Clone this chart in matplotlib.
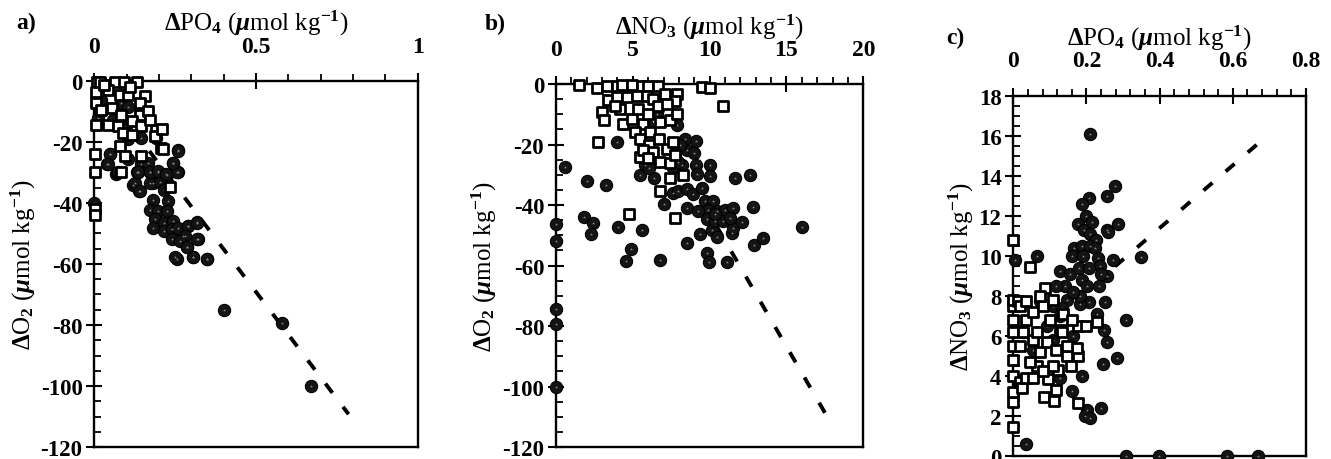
import numpy as np
import matplotlib.pyplot as plt
from matplotlib.ticker import MultipleLocator

plt.rcParams['font.family'] = ['Liberation Serif', 'DejaVu Serif']
plt.rcParams['font.weight'] = 'bold'
plt.rcParams['axes.unicode_minus'] = False
plt.rcParams['mathtext.fontset'] = 'custom'
plt.rcParams['mathtext.rm'] = 'Liberation Serif:bold'
plt.rcParams['mathtext.it'] = 'Liberation Serif:bold:italic'
plt.rcParams['mathtext.bf'] = 'Liberation Serif:bold'

# ---- panel a: dPO4 vs dO2 ----
a_circ_x = [0.40, 0.58, 0.67, 0.0, 0.347, 0.304, 0.255, 0.319, 0.316, 0.291, 0.286, 0.275,
            0.26, 0.244, 0.26, 0.18, 0.12, 0.139, 0.131, 0.048, 0.04, 0.067,
            0.136, 0.172, 0.198, 0.224, 0.255, 0.126, 0.141, 0.172, 0.203, 0.214, 0.069,
            0.182, 0.229, 0.172, 0.198, 0.224, 0.188, 0.214, 0.244, 0.182, 0.214, 0.239,
            0.26, 0.291, 0.317, 0.28, 0.317, 0.239, 0.265, 0.286, 0.25, 0.306, 0.348,
            0.022, 0.011, 0.058, 0.083, 0.104, 0.099, 0.145, 0.192, 0.104, 0.048, 0.042,
            0.073, 0.104, 0.145, 0.166, 0.259, 0.243, 0.135, 0.171, 0.197, 0.223]
a_circ_y = [-75, -79.5, -100, -40, -58.4, -57.8, -58.4, -51.9, -46.3, -47.4, -54.6, -50.8,
            -22.7, -27, -29.7, -33.5, -34, -36.2, -29.7, -23.8, -27.4, -30.5,
            -29.9, -29.9, -29.9, -30.8, -29.9, -33.5, -36.2, -33.5, -33, -35.7, -30.3,
            -38.9, -39.4, -42.2, -42.7, -42.7, -45.4, -46.5, -45.9, -48.1, -49.2, -48.7,
            -48.1, -47.6, -46.5, -50.8, -51.9, -51.9, -52.4, -54.6, -57.8, -57.8, -58.4,
            -6.3, -12.2, -12.7, -7.3, -8.4, -14.9, -18.7, -18.7, -19.2, -24.1, -27.3,
            -30, -25.7, -27.3, -26.8, -23, -26.8, -30, -30, -29.5, -30.6]
a_sq_x = [0.007, 0.018, 0.064, 0.092, 0.131, 0.156, 0.006, 0.042, 0.078, 0.104, 0.14, 0.006,
          0.022, 0.053, 0.083, 0.14, 0.166, 0.006, 0.042, 0.073, 0.115, 0.145, 0.192, 0.171,
          0.089, 0.115, 0.187, 0.207, 0.078, 0.094, 0.145, 0.003, 0.003, 0.083, 0.003,
          0.003, 0.234, 0.211, 0.208, 0.03, 0.11]
a_sq_y = [-0.5, -0.5, -0.5, -0.5, -0.5, -4.9, -3.6, -3.0, -4.6, -4.6, -7.3, -7.3,
          -9.5, -9.0, -11.1, -11.1, -10.0, -14.4, -14.4, -14.9, -13.3, -14.9, -16.0, -12.7,
          -17.1, -17.6, -18.2, -21.9, -21.4, -24.6, -24.6, -24.1, -30.0, -30.0, -42.0,
          -44.0, -34.9, -22.2, -15.7, -1.5, -2.0]
a_line_x = [0.17, 0.786]
a_slope, a_icept = -140.0, 0.8

# ---- panel b: dNO3 vs dO2 ----
b_circ_x = [0, 0, 0, 0, 0, 0.59, 2.0, 3.25, 1.82, 2.39, 2.26, 3.95, 4.01, 4.86, 4.56, 5.62,
            6.77, 7.0, 7.64, 7.96, 8.5, 8.5, 8.5, 8.94, 9.48, 9.11, 8.5, 8.98, 9.11, 10.0,
            9.15, 10.02, 11.65, 12.62, 12.84, 12.89, 13.45, 16.03, 9.8, 9.93, 11.1, 9.37,
            10.13, 10.46, 11.43, 11.54, 12.08, 9.7, 10.2, 9.9, 10.46, 11.0, 11.54, 9.8,
            10.35, 10.89, 11.3, 10.35, 9.26, 5.47, 5.79, 6.38, 6.07, 8.4, 8.07, 7.74, 8.18,
            7.64, 7.96, 7.74, 7.85, 6.55, 5.9]
b_circ_y = [-46.4, -52, -74.4, -79.4, -100, -27.3, -32.2, -33.5, -44, -45.9, -49.4, -19.3,
            -47.1, -54.5, -58.4, -48.2, -58.1, -39.8, -36, -35.2, -52.4, -40.9, -34.6, -36.5,
            -34.4, -18.9, -21.8, -22.9, -26.7, -26.7, -29.8, -30.3, -31.1, -30, -40.7, -53.1,
            -50.9, -47.1, -56, -58.7, -58.9, -49.4, -48.3, -50.5, -49.3, -47.5, -45.5, -38.7,
            -38.7, -41.5, -42, -41.5, -41.1, -44.7, -45.3, -45.3, -44.2, -42.9, -42, -30,
            -26.9, -30.9, -27.6, -18, -20.2, -23.5, -26.7, -27.8, -25.6, -11.1, -13.6, -9.8,
            -13.6]
b_sq_x = [1.52, 2.65, 3.3, 3.95, 4.27, 4.92, 5.57, 6.0, 6.66, 7.85, 9.48, 10.02, 10.89,
          3.4, 3.95, 4.6, 5.25, 5.9, 6.33, 7.09, 7.74, 2.97, 3.12, 4.16, 3.84, 4.38, 4.92,
          5.36, 5.68, 6.0, 6.66, 7.2, 5.14, 5.47, 6.12, 6.77, 7.42, 7.85, 2.75, 6.07, 6.72,
          7.2, 7.64, 5.47, 6.33, 6.77, 7.42, 7.74, 8.29, 7.42, 6.77, 4.77, 7.77, 5.68, 6.0]
b_sq_y = [-0.3, -1.4, -0.5, -0.5, -0.3, -0.3, -0.5, -0.7, -0.5, -3.3, -0.8, -1.2, -7.3,
          -5.1, -4.4, -4.4, -3.8, -3.8, -4.9, -3.3, -5.5, -9.3, -12, -8.2, -7.1, -13.1,
          -11.5, -8.2, -13.1, -9.8, -7.1, -6.5, -15.8, -18, -15.8, -12.5, -12, -9.8, -19.1,
          -20.2, -18, -21.3, -19.1, -24, -22.4, -25.6, -26.2, -23.5, -30, -31.1, -35.2,
          -42.9, -44.2, -21.8, -24.5]
b_line_x = [9.5, 17.6]
b_slope, b_icept = -8.75, 44.5

# ---- panel c: dPO4 vs dNO3 ----
c_circ_x = [0.211, 0.279, 0.255, 0.208, 0.187, 0.198, 0.178, 0.193, 0.214, 0.21, 0.255, 0.26,
            0.287, 0.226, 0.167, 0.187, 0.21, 0.223, 0.16, 0.191, 0.232, 0.237, 0.273, 0.348,
            0.005, 0.066, 0.128, 0.155, 0.18, 0.208, 0.187, 0.201, 0.235, 0.255, 0.241,
            0.141, 0.118, 0.251, 0.208, 0.182, 0.228, 0.307, 0.248, 0.255, 0.284, 0.244,
            0.189, 0.16, 0.202, 0.239, 0.197, 0.211, 0.034, 0.308, 0.399, 0.583, 0.67,
            0.128, 0.146, 0.109, 0.073, 0.128, 0.091, 0.164, 0.055, 0.027, 0.109, 0.182,
            0.164, 0.132]
c_circ_y = [16.1, 13.5, 13.0, 12.9, 12.6, 12.0, 11.6, 11.3, 11.7, 11.1, 11.3, 11.2,
            11.6, 10.8, 10.4, 10.5, 10.5, 10.4, 10.0, 10.0, 9.9, 9.5, 9.8, 9.95,
            9.8, 10.0, 9.25, 9.1, 9.4, 9.4, 8.8, 8.5, 8.5, 9.0, 9.1,
            8.5, 8.5, 7.7, 7.7, 7.6, 7.1, 6.8, 6.3, 5.7, 4.9, 4.6,
            4.0, 3.25, 2.3, 2.4, 2.0, 1.9, 0.6, 0.0, 0.0, 0.0, 0.0,
            3.9, 7.8, 7.5, 7.75, 7.0, 6.5, 6.0, 5.3, 6.2, 5.8, 8.0,
            8.2, 7.4]
c_sq_x = [0.0, 0.046, 0.0, 0.0, 0.0, 0.0, 0.0, 0.0, 0.0, 0.0, 0.0, 0.0, 0.014, 0.018, 0.023,
          0.036, 0.055, 0.084, 0.112, 0.117, 0.176, 0.096, 0.123, 0.146, 0.178, 0.173, 0.176,
          0.2, 0.228, 0.087, 0.036, 0.027, 0.055, 0.018, 0.064, 0.073, 0.091, 0.109, 0.064,
          0.046, 0.082, 0.1, 0.128, 0.146, 0.018, 0.055, 0.082, 0.109, 0.132, 0.118, 0.159,
          0.036, 0.073, 0.137, 0.16]
c_sq_y = [10.8, 9.45, 1.45, 2.7, 3.2, 4.0, 4.8, 5.5, 6.2, 6.8, 7.5, 7.8, 7.75, 3.7, 3.4,
          3.9, 3.9, 2.95, 2.75, 3.3, 2.65, 3.85, 4.3, 5.0, 5.0, 5.4, 6.5,
          6.5, 6.7, 8.4, 6.8, 6.2, 5.8, 5.5, 6.2, 5.2, 5.7, 4.5, 4.5,
          4.7, 4.25, 6.8, 6.3, 5.5, 7.5, 7.2, 7.5, 7.8, 6.2, 5.3, 4.5,
          7.75, 8.0, 7.1, 6.8]
c_line_x = [0.278, 0.692]
c_slope, c_icept = 15.7, 5.1

fig = plt.figure(figsize=(13.31, 4.6), dpi=100)


def panel(rect, cx, cy, sx, sy, lx, slope, icept, xlim, ylim, xmaj, xmin, ymaj, ymin,
          xlabel, ylabel, letter, letter_pos, xfmt):
    ax = fig.add_axes(rect)
    ax.scatter(cx, cy, s=78, marker='o', facecolor='#141414', edgecolor='black',
               linewidth=0.8, clip_on=False, zorder=3)
    ax.scatter(cx, cy, s=5, marker='*', color='#8a8a8a', linewidth=0, clip_on=False, zorder=3)
    ax.scatter(sx, sy, s=52, marker='s', facecolor='white', edgecolor='black',
               linewidth=2.0, clip_on=False, zorder=4)
    lx = np.array(lx)
    ax.plot(lx, slope * lx + icept, color='black', lw=2.8, dashes=(3, 4.5), zorder=2)
    ax.set_xlim(*xlim)
    ax.set_ylim(*ylim)
    ax.xaxis.tick_top()
    ax.xaxis.set_label_position('top')
    ax.xaxis.set_major_locator(MultipleLocator(xmaj))
    ax.xaxis.set_minor_locator(MultipleLocator(xmin))
    ax.yaxis.set_major_locator(MultipleLocator(ymaj))
    ax.yaxis.set_minor_locator(MultipleLocator(ymin))
    ax.xaxis.set_major_formatter(xfmt)
    ax.tick_params(axis='x', which='major', direction='inout', length=11, width=1.5,
                   labelsize=17, pad=12)
    ax.tick_params(axis='x', which='minor', direction='out', length=5, width=1.3)
    ax.tick_params(axis='y', which='major', direction='inout', length=11, width=1.5,
                   labelsize=16.5, pad=3)
    ax.tick_params(axis='y', which='minor', direction='in', length=5, width=1.3)
    for sp in ax.spines.values():
        sp.set_linewidth(1.7)
    ax.set_xlabel(xlabel, fontsize=18, labelpad=4)
    ax.set_ylabel(ylabel, fontsize=18, labelpad=2)
    fig.text(letter_pos[0], letter_pos[1], letter, fontsize=17, fontweight='bold',
             ha='left', va='center')
    return ax


def fmt_a(v, p):
    return '%g' % v


def fmt_c(v, p):
    return '0' if v == 0 else '%.1f' % v


po4_label = r'$\Delta$PO$_4$ ($\mu$mol kg$^{-1}$)'
no3_label = r'$\Delta$NO$_3$ ($\mu$mol kg$^{-1}$)'
o2_label = r'$\Delta$O$_2$ ($\mu$mol kg$^{-1}$)'

panel([0.0709, 0.026, 0.2430, 0.796], a_circ_x, a_circ_y, a_sq_x, a_sq_y,
      a_line_x, a_slope, a_icept, (0, 1), (-120, 0), 0.5, 0.1, 20, 5,
      po4_label, o2_label, 'a)', (0.012, 0.95), plt.FuncFormatter(fmt_a))
panel([0.4177, 0.026, 0.2309, 0.789], b_circ_x, b_circ_y, b_sq_x, b_sq_y,
      b_line_x, b_slope, b_icept, (0, 20), (-120, 0), 5, 1, 20, 5,
      no3_label, o2_label, 'b)', (0.364, 0.946), plt.FuncFormatter(fmt_a))
panel([0.7613, 0.0072, 0.2199, 0.7826], c_circ_x, c_circ_y, c_sq_x, c_sq_y,
      c_line_x, c_slope, c_icept, (0, 0.8), (0, 18), 0.2, 0.04, 2, 0.5,
      po4_label, no3_label, 'c)', (0.711, 0.917), plt.FuncFormatter(fmt_c))

fig.savefig('out.png', dpi=100)
